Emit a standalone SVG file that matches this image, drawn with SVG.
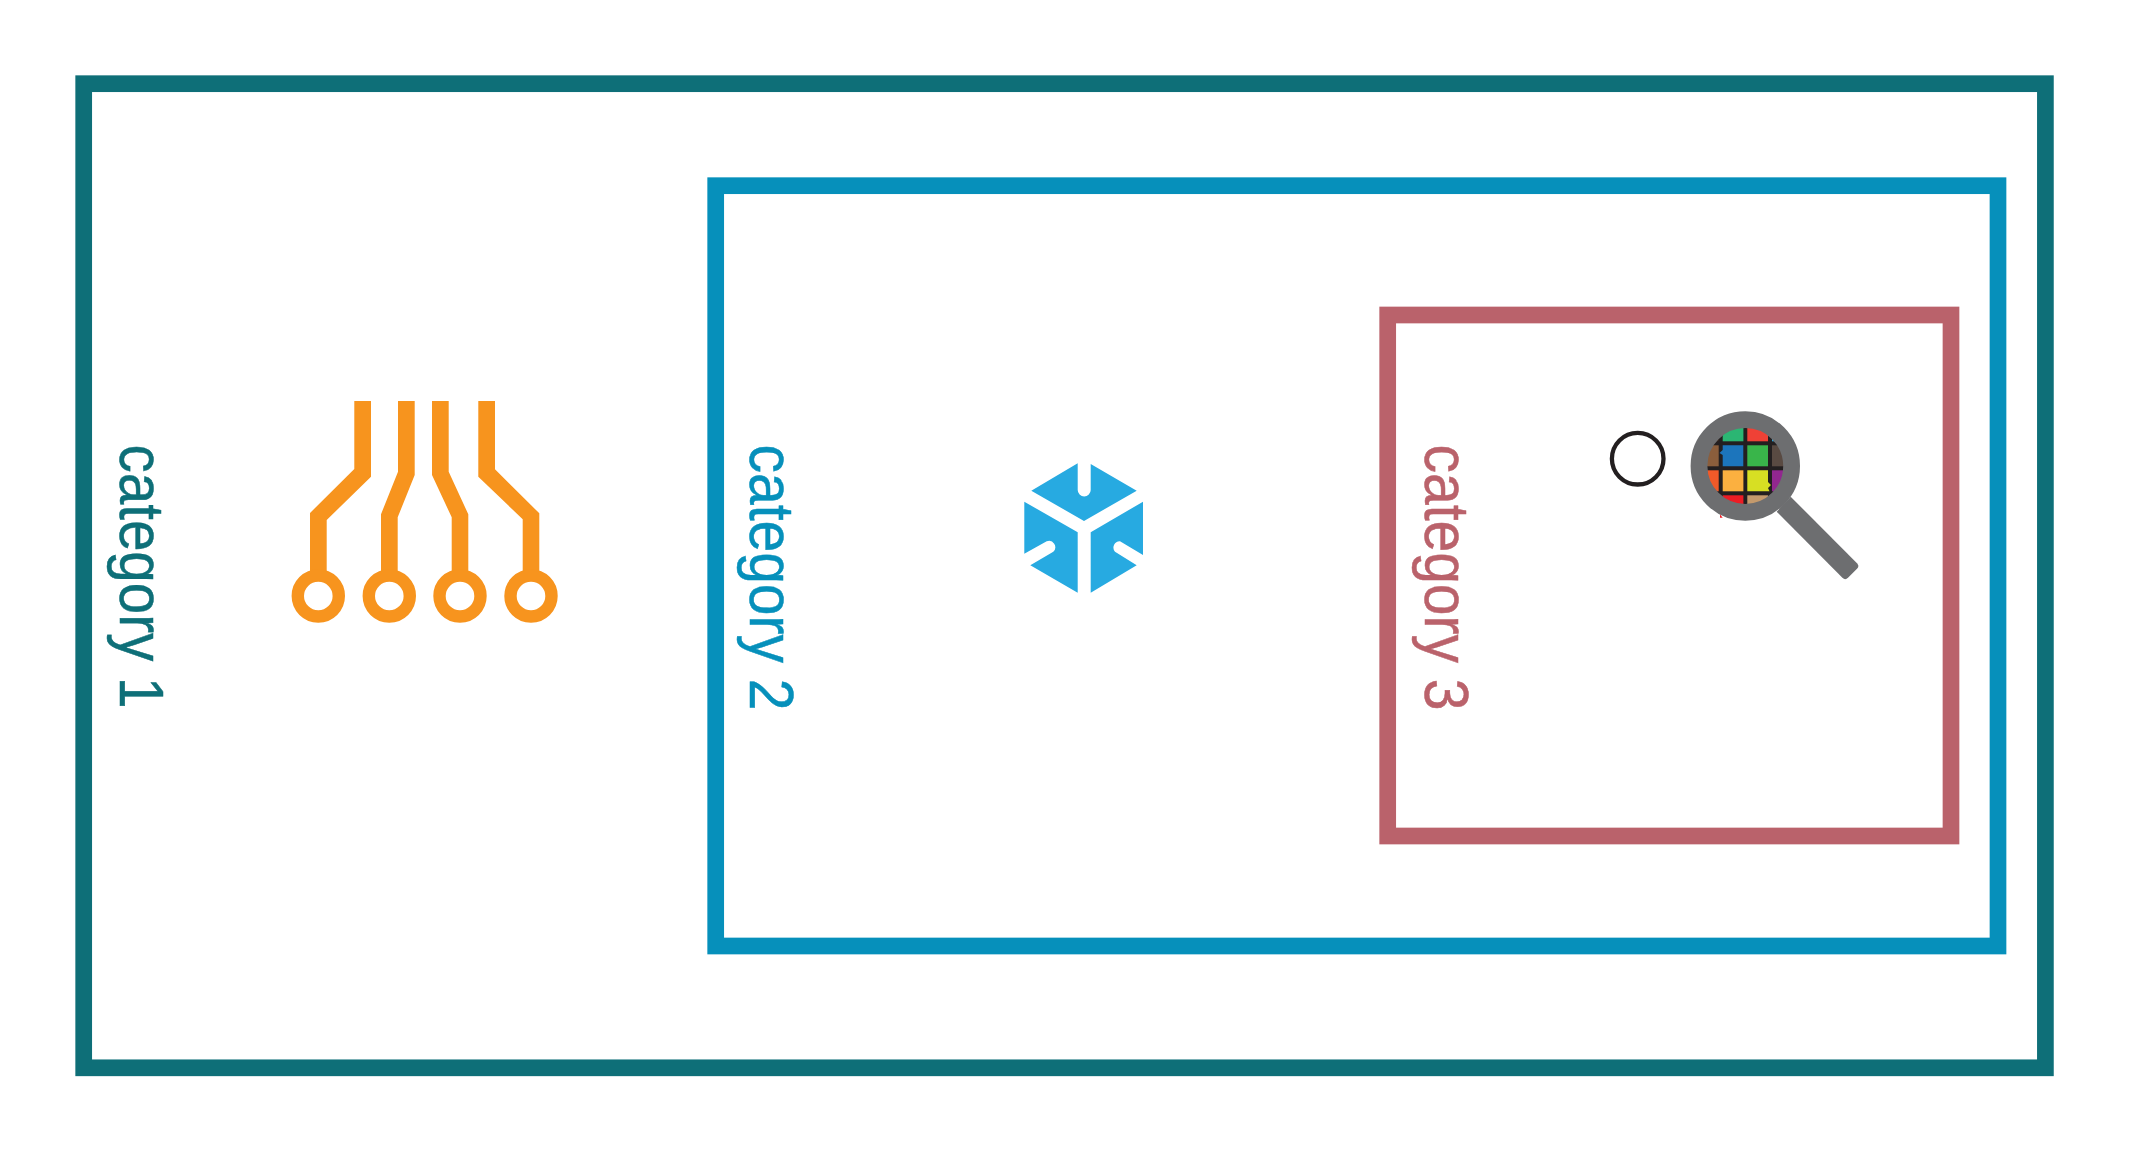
<svg xmlns="http://www.w3.org/2000/svg" width="2129" height="1152" viewBox="0 0 2129 1152">
<style>
.box{fill:none;stroke-width:16.7}
.lbl{font-family:"Liberation Sans",Arial,sans-serif;font-size:63px;stroke-width:.5}
.orange{fill:#f7941e}
.ring{fill:none;stroke:#f7941e;stroke-width:12.4}
.cube{fill:#27aae1}
</style>
<defs><clipPath id="lens"><circle cx="1745.3" cy="466" r="39"/></clipPath></defs>
<rect width="2129" height="1152" fill="#fff"/>
<g id="category1">
<rect class="box" x="83.7" y="83.7" width="1961.7" height="984.1" stroke="#0e6f78"/>
<text class="lbl" transform="translate(119.8 444.5) rotate(90)" fill="#0e6f78" stroke="#0e6f78" textLength="264" lengthAdjust="spacingAndGlyphs">category 1</text>
</g>
<g id="category2">
<rect class="box" x="715.7" y="185.7" width="1282.3" height="760.3" stroke="#0690bb"/>
<text class="lbl" transform="translate(749.8 444.5) rotate(90)" fill="#0690bb" stroke="#0690bb" textLength="266" lengthAdjust="spacingAndGlyphs">category 2</text>
</g>
<g id="category3">
<rect class="box" x="1387.7" y="315" width="563.3" height="521" stroke="#ba626b"/>
<text class="lbl" transform="translate(1424.8 444.5) rotate(90)" fill="#ba626b" stroke="#ba626b" textLength="266" lengthAdjust="spacingAndGlyphs">category 3</text>
</g>
<g id="circuit">
<polygon class="orange" points="354.3,401 371,401 371,476.7 326.7,520 326.7,580 310,580 310,513 354.3,469"/>
<polygon class="orange" points="398,401 414.7,401 414.7,475 397.7,517.3 397.7,580 381,580 381,514.3 398,471.7"/>
<polygon class="orange" points="432,401 448.7,401 448.7,471.7 468.3,514.3 468.3,580 451.7,580 451.7,517.3 432,475"/>
<polygon class="orange" points="478.3,401 495,401 495,469.3 539.3,513.3 539.3,580 522.7,580 522.7,519.3 478.3,476.7"/>
<circle class="ring" cx="318.3" cy="596" r="20.5"/>
<circle class="ring" cx="389.3" cy="596" r="20.5"/>
<circle class="ring" cx="460" cy="596" r="20.5"/>
<circle class="ring" cx="531" cy="596" r="20.5"/>
</g>
<g id="cube">
<path class="cube" d="M1077.7 463.3L1031.3 490.7L1084 521L1136.7 490.7L1090.7 464V490A6.5 6.5 0 0 1 1077.7 490Z"/>
<path class="cube" d="M1024.3 501.7L1077.7 532.3V592.7L1030.3 565.3L1053.3 551.7A6.3 6.3 0 0 0 1046.7 541.3L1024.3 553.7Z"/>
<path class="cube" d="M1143 501.7L1090.7 532.3V592.7L1136.7 565.3L1115 551.7A6.3 6.3 0 0 1 1120 541.3L1143 555Z"/>
</g>
<g id="dot">
<circle cx="1637.7" cy="458.7" r="25.8" fill="none" stroke="#231f20" stroke-width="4.3"/>
</g>
<g id="magnifier">
<polygon points="1720,514.3 1722.7,517.7 1720,517.7" fill="#ed1c24"/>
<g clip-path="url(#lens)">
<rect x="1700" y="420" width="90" height="90" fill="#231f20"/>
<rect x="1700" y="420" width="18.7" height="21.3" fill="#3b2a20"/>
<rect x="1722.7" y="420" width="20.7" height="21.3" fill="#2bb673"/>
<rect x="1747.3" y="420" width="20.7" height="21.3" fill="#ef4136"/>
<rect x="1772" y="420" width="20" height="21.3" fill="#27aae1"/>
<rect x="1700" y="445.3" width="18.7" height="21" fill="#8b5e3c"/>
<polygon points="1722.7,445.3 1743.3,445.3 1743.3,466.3 1722.7,466.3 1722.7,455 1719.5,453 1722.7,450" fill="#1c75bc"/>
<rect x="1747.3" y="445.3" width="20.7" height="21" fill="#39b54a"/>
<rect x="1772" y="445.3" width="20" height="21" fill="#594a42"/>
<rect x="1700" y="470.3" width="18.7" height="21" fill="#f15a29"/>
<rect x="1722.7" y="470.3" width="20.7" height="21" fill="#fbb040"/>
<polygon points="1747.3,470.3 1768,470.3 1768,482 1771,485 1768,488 1769.5,491.3 1747.3,491.3" fill="#d7df23"/>
<rect x="1772" y="470.3" width="20" height="21" fill="#92278f"/>
<rect x="1722.7" y="495.3" width="20.7" height="20" fill="#ed1c24"/>
<rect x="1747.3" y="495.3" width="20.7" height="20" fill="#c49a6c"/>
</g>
<circle cx="1745.3" cy="466" r="46.3" fill="none" stroke="#6d6e70" stroke-width="16.8"/>
<path d="M1790.7 496.7L1857 563.2A4 4 0 0 1 1857 568.8L1848 577.8A4 4 0 0 1 1842.4 577.8L1776.7 511.7Z" fill="#6d6e70"/>
</g>
</svg>
